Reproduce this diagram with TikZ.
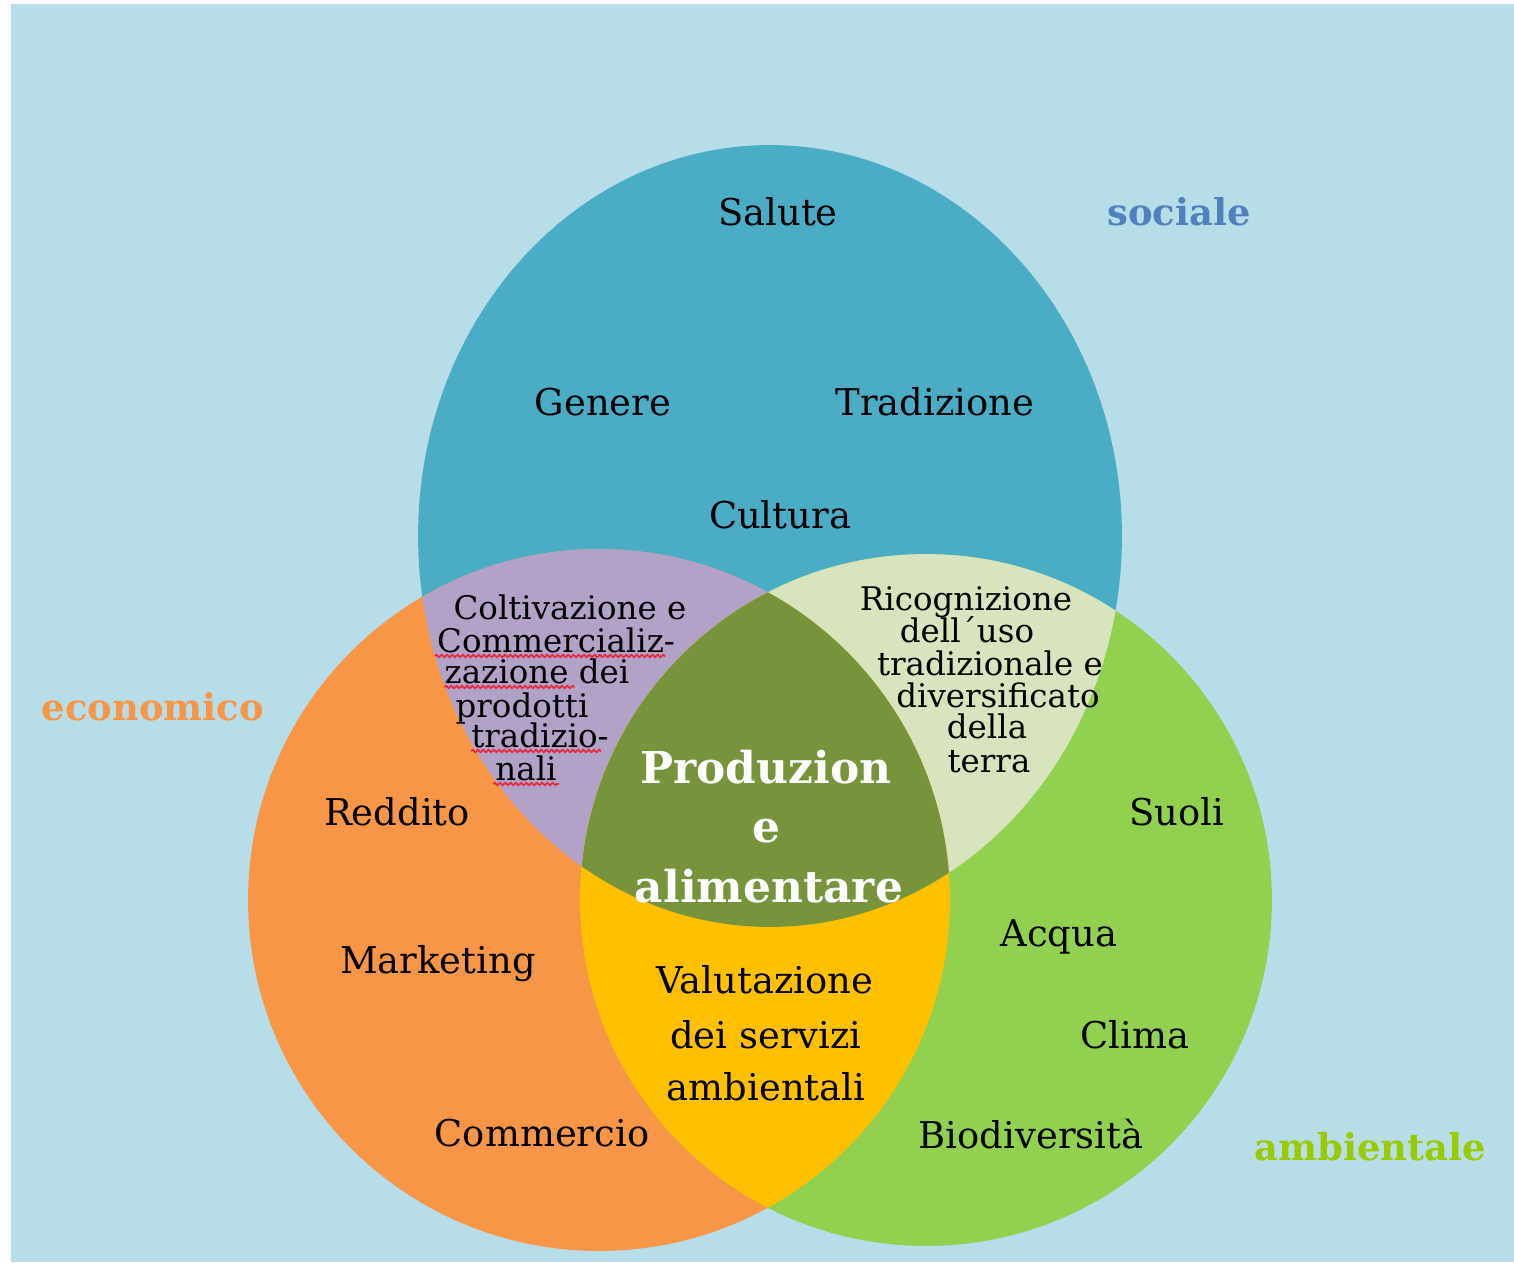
\documentclass[tikz,border=0pt]{standalone}
\usepackage{fontspec}
\setmainfont{DejaVu Serif}
\usetikzlibrary{calc,decorations.pathmorphing}
\definecolor{bgblue}{HTML}{B7DDE8}
\definecolor{socfill}{HTML}{4BACC6}
\definecolor{ecofill}{HTML}{F79646}
\definecolor{ambfill}{HTML}{92D050}
\definecolor{socecofill}{HTML}{B2A2C7}
\definecolor{socambfill}{HTML}{D7E4BD}
\definecolor{ecoambfill}{HTML}{FFC000}
\definecolor{corefill}{HTML}{77933C}
\definecolor{soctext}{HTML}{4F81BD}
\definecolor{ecotext}{HTML}{F79646}
\definecolor{ambtext}{HTML}{99CC00}
\definecolor{spellred}{HTML}{E8283C}
\begin{document}
\begin{tikzpicture}[x=0.02cm,y=-0.02cm,
  lbl/.style={anchor=base,inner sep=0pt,font=\fontsize{21}{25}\selectfont,text=black},
  sml/.style={anchor=base,inner sep=0pt,font=\fontsize{18.5}{22}\selectfont,text=black},
  ctr/.style={anchor=base,inner sep=0pt,font=\bfseries\fontsize{25}{30}\selectfont,text=white},
  dim/.style={anchor=base,inner sep=0pt,font=\bfseries\fontsize{21}{25}\selectfont},
  squig/.style={draw=spellred,line width=1pt,decorate,decoration={snake,amplitude=0.7pt,segment length=3pt}}]
\useasboundingbox (0,0) rectangle (1514,1262);
\fill[white] (0,0) rectangle (1514,1262);
\fill[bgblue] (11,4) rectangle (1514,1262);

% circle centres
\coordinate (cT) at (770,536);
\coordinate (cL) at (599,900);
\coordinate (cR) at (926,900);
\def\shapeT{(cT) ellipse [x radius=7.04cm, y radius=7.82cm]}
\def\shapeL{(cL) circle [radius=7.02cm]}
\def\shapeR{(cR) circle [radius=6.92cm]}

% the three spheres
\fill[socfill] \shapeT;
\fill[ecofill] \shapeL;
\fill[ambfill] \shapeR;
% pairwise overlaps
\begin{scope}\clip \shapeT; \fill[socecofill] \shapeL; \end{scope}
\begin{scope}\clip \shapeT; \fill[socambfill] \shapeR; \end{scope}
\begin{scope}\clip \shapeL; \fill[ecoambfill] \shapeR; \end{scope}
% common core
\begin{scope}\clip \shapeT; \clip \shapeL; \fill[corefill] \shapeR; \end{scope}

% dimension titles
\node[dim,text=soctext] (sociale) at (1179,225) {sociale};
\node[dim,text=ecotext] (economico) at (153,720) {economico};
\node[dim,text=ambtext] (ambientale) at (1370,1160) {ambientale};

% single-word labels
\foreach \nm/\px/\py/\tx in {
  salute/778/225/Salute, genere/603/415/Genere, tradiz/935/415/Tradizione,
  cultura/780/528/Cultura, reddito/397/825/Reddito, marketing/438/973/Marketing,
  commercio/542/1146/Commercio, suoli/1177/825/Suoli, acqua/1059/946/Acqua,
  clima/1135/1048/Clima, biodiv/1031/1148/Biodiversità,
  val1/765/993/Valutazione, val2/766/1048/dei servizi, val3/766/1100/ambientali}
  \node[lbl] (\nm) at (\px,\py) {\tx};

% social-economic overlap
\foreach \nm/\px/\py/\tx in {
  col1/570/619/Coltivazione e, col2/556/652/Commercializ-, col3/537/683/zazione dei,
  col4/522/717/prodotti, col5/540/747/tradizio-, col6/526/780/nali}
  \node[sml] (\nm) at (\px,\py) {\tx};

% social-environmental overlap
\foreach \nm/\px/\py/\tx in {
  ric1/966/610/Ricognizione, ric2/967/642/dell´uso, ric3/990/675/tradizionale e,
  ric4/998/707/diversificato, ric5/987/738/della, ric6/989/772/terra}
  \node[sml] (\nm) at (\px,\py) {\tx};

% core
\node[ctr] (prod1) at (766,783) {Produzion};
\node[ctr] (prod2) at (766,842) {e};
\node[ctr] (prod3) at (769,902) {alimentare};

% spell-check underlines
\draw[squig] ($(col2.base west)+(-2,4)$) -- ($(col2.base east)+(-10,4)$);
\draw[squig] ($(col3.base west)+(0,4)$) -- ++(130,0);
\draw[squig] ($(col5.base west)+(0,4)$) -- ($(col5.base east)+(-8,4)$);
\draw[squig] ($(col6.base west)+(-2,4)$) -- ($(col6.base east)+(2,4)$);
\end{tikzpicture}
\end{document}
